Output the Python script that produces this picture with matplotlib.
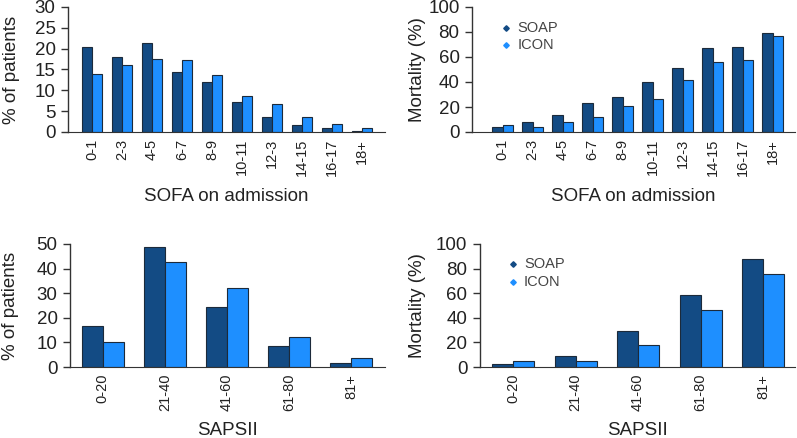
import numpy as np
import matplotlib
matplotlib.use("Agg")
import matplotlib.pyplot as plt

plt.rcParams['font.family'] = ['Liberation Sans', 'DejaVu Sans']

sofa_cats = ["0-1", "2-3", "4-5", "6-7", "8-9", "10-11", "12-3", "14-15", "16-17", "18+"]
sofa_pat_soap = [20.4, 18.0, 21.3, 14.5, 11.9, 7.1, 3.6, 1.7, 1.0, 0.3]
sofa_pat_icon = [13.8, 16.0, 17.6, 17.3, 13.6, 8.7, 6.6, 3.5, 1.9, 1.0]
sofa_mort_soap = [4.0, 8.0, 13.4, 23.5, 28.0, 39.8, 51.3, 67.1, 67.9, 79.4]
sofa_mort_icon = [5.3, 4.0, 8.0, 11.8, 21.1, 26.7, 41.4, 56.1, 57.8, 76.5]

saps_cats = ["0-20", "21-40", "41-60", "61-80", "81+"]
saps_pat_soap = [16.8, 48.9, 24.3, 8.5, 1.5]
saps_pat_icon = [10.0, 42.5, 32.2, 12.1, 3.5]
saps_mort_soap = [2.2, 9.2, 29.0, 58.3, 87.5]
saps_mort_icon = [4.6, 4.6, 17.9, 46.3, 75.6]

SOAP_COL = "#134b84"
ICON_COL = "#1e8fff"
EDGE = "#1c2a3a"

W, H = 797, 438
fig = plt.figure(figsize=(W / 100, H / 100), dpi=100)


def make_ax(left, right, top, bottom):
    return fig.add_axes([left / W, 1 - bottom / H, (right - left) / W, (bottom - top) / H])


def draw(ax, cats, soap, icon, width, xlims, ylim, yticks, ylabel, xlabel, legend=False,
         ylab_x=-0.17, xlab_y=-0.45):
    x = np.arange(len(cats))
    ax.bar(x - width / 2, soap, width, color=SOAP_COL, edgecolor=EDGE, linewidth=0.8)
    ax.bar(x + width / 2, icon, width, color=ICON_COL, edgecolor=EDGE, linewidth=0.8)
    ax.set_xlim(xlims)
    ax.set_ylim(0, ylim)
    ax.set_yticks(yticks)
    ax.tick_params(axis='y', labelsize=13.5, length=5, width=1, color="#333333",
                   labelcolor="#222222", pad=4)
    ax.set_xticks(x)
    ax.set_xticklabels(cats, rotation=90, fontsize=10.5, color="#222222")
    ax.tick_params(axis='x', length=0, pad=5)
    for s in ["top", "right"]:
        ax.spines[s].set_visible(False)
    ax.spines["left"].set_color("#333333")
    ax.spines["bottom"].set_color("#333333")
    ax.spines["left"].set_linewidth(1)
    ax.set_ylabel(ylabel, fontsize=13.5, color="#222222")
    ax.yaxis.set_label_coords(ylab_x, 0.5)
    ax.set_xlabel(xlabel, fontsize=13.5, color="#222222", va="top")
    ax.xaxis.set_label_coords(0.5, xlab_y)
    if legend:
        ax.plot([0.105], [0.835], marker="D", ms=2.8, color=SOAP_COL, transform=ax.transAxes, clip_on=False)
        ax.plot([0.105], [0.695], marker="D", ms=2.8, color=ICON_COL, transform=ax.transAxes, clip_on=False)
        ax.text(0.14, 0.835, "SOAP", fontsize=10.5, color="#444444", va="center", transform=ax.transAxes)
        ax.text(0.14, 0.695, "ICON", fontsize=10.5, color="#444444", va="center", transform=ax.transAxes)


ax1 = make_ax(68, 385, 7, 132)
draw(ax1, sofa_cats, sofa_pat_soap, sofa_pat_icon, 0.34, (-0.8, 9.77), 30, range(0, 31, 5),
     "% of patients", "SOFA on admission", ylab_x=-0.152, xlab_y=-0.448)

ax2 = make_ax(472, 795, 7, 132)
draw(ax2, sofa_cats, sofa_mort_soap, sofa_mort_icon, 0.35, (-1.02, 9.75), 100, range(0, 101, 20),
     "Mortality (%)", "SOFA on admission", legend=True, ylab_x=-0.142, xlab_y=-0.448)

ax3 = make_ax(70, 385, 244, 367)
draw(ax3, saps_cats, saps_pat_soap, saps_pat_icon, 0.333, (-0.53, 4.55), 50, range(0, 51, 10),
     "% of patients", "SAPSII", ylab_x=-0.162, xlab_y=-0.447)

ax4 = make_ax(480, 795, 244, 367)
draw(ax4, saps_cats, saps_mort_soap, saps_mort_icon, 0.336, (-0.53, 4.51), 100, range(0, 101, 20),
     "Mortality (%)", "SAPSII", legend=True, ylab_x=-0.171, xlab_y=-0.447)

fig.savefig("out.png", dpi=100)
